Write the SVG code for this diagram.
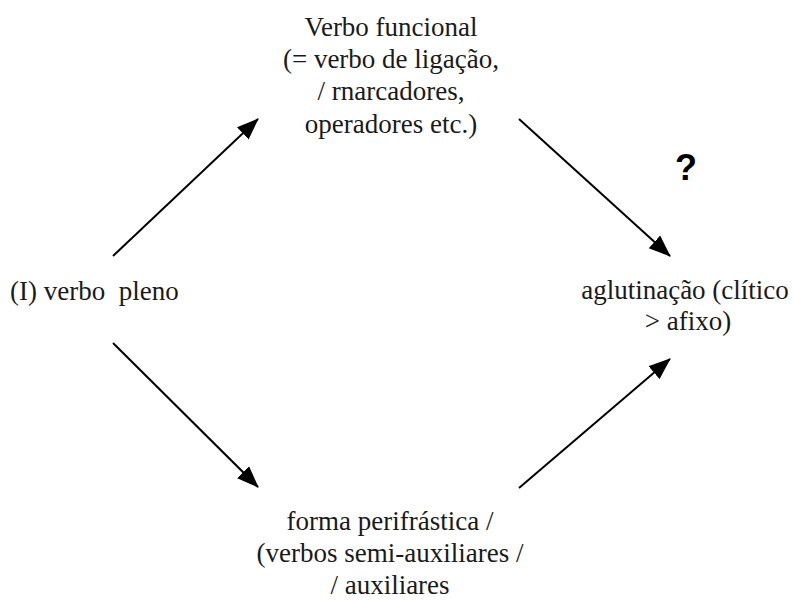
<svg xmlns="http://www.w3.org/2000/svg" width="793" height="601" viewBox="0 0 793 601">
<style>
text.t{font-size:27px;fill:#1a1a1a}
text.c{text-anchor:middle}
text.q{font-weight:bold;font-size:36px;fill:#000;text-anchor:middle}
line.e{stroke:#000;stroke-width:2;fill:none;marker-end:url(#ah)}
</style>
<defs>
<marker id="ah" markerUnits="userSpaceOnUse" markerWidth="22" markerHeight="18" refX="21" refY="8.5" orient="auto" viewBox="0 0 22 17">
<path d="M0,0 L22,8.5 L0,17 z" fill="#000"/>
</marker>
</defs>
<rect width="793" height="601" fill="#fff"/>
<g id="connectors">
<line class="e" x1="113" y1="256" x2="258" y2="119"/>
<line class="e" x1="113" y1="343" x2="258" y2="487"/>
<line class="e" x1="519" y1="119" x2="670" y2="256"/>
<line class="e" x1="519" y1="488" x2="670" y2="359"/>
</g>
<g font-family="Liberation Serif, DejaVu Serif, serif">
<g id="node-verbo-funcional">
<text class="t c" x="391" y="36">Verbo funcional</text>
<text class="t c" x="391" y="68">(= verbo de ligação,</text>
<text class="t c" x="391" y="100">/ rnarcadores,</text>
<text class="t c" x="391" y="133">operadores etc.)</text>
</g>
<g id="node-verbo-pleno">
<text class="t" x="10" y="300" xml:space="preserve">(I) verbo  pleno</text>
</g>
<g id="node-aglutinacao">
<text class="t c" x="685" y="299">aglutinação (clítico</text>
<text class="t c" x="688" y="330">&gt; afixo)</text>
</g>
<g id="node-forma-perifrastica">
<text class="t c" x="390" y="530">forma perifrástica /</text>
<text class="t c" x="390" y="562">(verbos semi-auxiliares /</text>
<text class="t c" x="390" y="594">/ auxiliares</text>
</g>
</g>
<g id="label-question" font-family="Liberation Sans, DejaVu Sans, sans-serif">
<text class="q" x="686" y="180">?</text>
</g>
</svg>
